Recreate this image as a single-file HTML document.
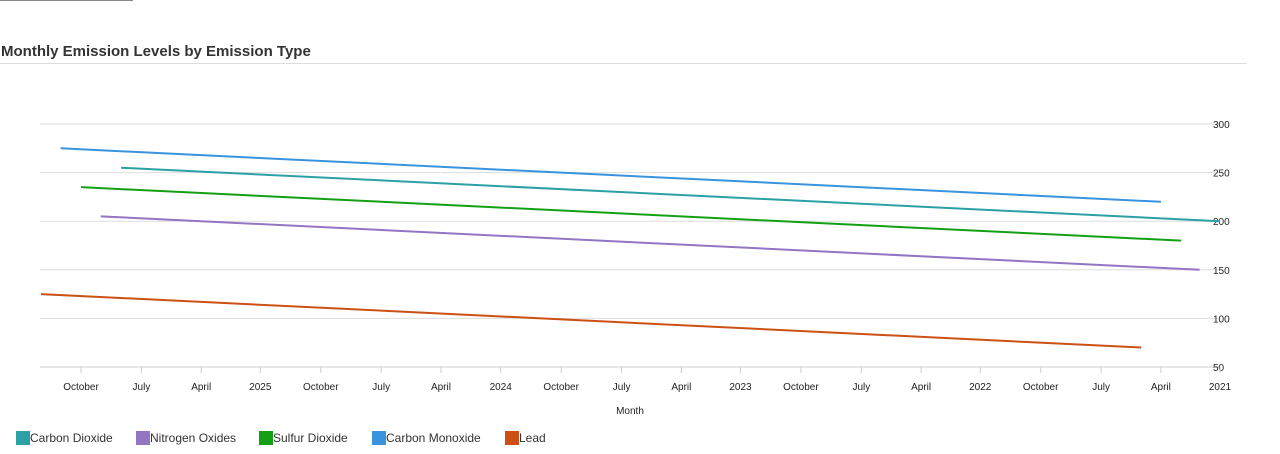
<!DOCTYPE html>
<html><head><meta charset="utf-8">
<style>
body{margin:0;width:1280px;height:454px;background:#fff;font-family:"Liberation Sans",sans-serif;overflow:hidden;position:relative}
.topbar{position:absolute;left:0;top:0;width:133px;height:1px;background:#888}
.title{position:absolute;left:1px;top:43px;font-size:15px;font-weight:bold;color:#333}
.rule{position:absolute;left:0;top:63px;width:1247px;height:1px;background:#ddd}
.legend{position:absolute;top:431px;left:0;font-size:12px;color:#333}
.li{position:absolute;white-space:nowrap;display:flex;align-items:center;height:14px}
.sw{width:14px;height:14px;display:inline-block}
</style></head><body>
<div class="topbar"></div>
<div class="title">Monthly Emission Levels by Emission Type</div>
<div class="rule"></div>
<svg id="chart" width="1280" height="454" style="position:absolute;left:0;top:0"></svg>
<div class="legend">
<div class="li" style="left:16px"><span class="sw" style="background:#2ca0a5"></span>Carbon Dioxide</div>
<div class="li" style="left:136px"><span class="sw" style="background:#9475c4"></span>Nitrogen Oxides</div>
<div class="li" style="left:259px"><span class="sw" style="background:#14a014"></span>Sulfur Dioxide</div>
<div class="li" style="left:372px"><span class="sw" style="background:#3a94dd"></span>Carbon Monoxide</div>
<div class="li" style="left:505px"><span class="sw" style="background:#cc5014"></span>Lead</div>
</div>
<script>
const seriesNames=["Carbon Dioxide","Nitrogen Oxides","Sulfur Dioxide","Carbon Monoxide","Lead"];
const seriesColors=["#2ca0a5","#9475c4","#14a014","#3a94dd","#cc5014"];
const seriesDates=[["2025-08-01","2021-01-01"],["2025-09-01","2021-02-01"],["2025-10-01","2021-03-01"],["2025-11-01","2021-04-01"],["2025-12-01","2021-05-01"]];
const seriesValues=[[255,200],[205,150],[235,180],[275,220],[125,70]];
const yTicks=[50,100,150,200,250,300];
const xTickDates=["2025-10-01","2025-07-01","2025-04-01","2025-01-01","2024-10-01","2024-07-01","2024-04-01","2024-01-01","2023-10-01","2023-07-01","2023-04-01","2023-01-01","2022-10-01","2022-07-01","2022-04-01","2022-01-01","2021-10-01","2021-07-01","2021-04-01","2021-01-01"];
const xTickLabels=["October","July","April","2025","October","July","April","2024","October","July","April","2023","October","July","April","2022","October","July","April","2021"];

const svg=document.getElementById('chart');
const NS="http://www.w3.org/2000/svg";
const t0=Date.parse("2021-01-01"),t1=Date.parse("2025-10-01");
const xs=d=>1220-(t0-Date.parse(d))/(t0-t1)*(1220-81)*-1*-1- (0);
function X(d){return 1220+(Date.parse(d)-t0)/(t1-t0)*(81-1220);}
function Y(v){return 367-(v-50)*(367-124)/250;}
function mk(tag,attrs){const e=document.createElementNS(NS,tag);for(const k in attrs)e.setAttribute(k,attrs[k]);svg.appendChild(e);return e;}
yTicks.forEach(v=>{
  const l=mk('line',{x1:40,x2:1220,y1:Y(v),y2:Y(v),stroke:v===50?'#ccc':'#ddd','stroke-width':1});
  
  
  const t=mk('text',{x:1213,y:Y(v)+4,'font-size':10,fill:'#222'});
  t.textContent=v;
  
  
});
xTickDates.forEach((d,i)=>{
  const x=X(d);
  const tk=mk('line',{x1:x,x2:x,y1:367,y2:373,stroke:'#ccc'});
  
  
  const t=mk('text',{x:x,y:390,'font-size':10,fill:'#222','text-anchor':'middle'});
  t.textContent=xTickLabels[i];
  
  
});
const at=mk('text',{x:630,y:414,'font-size':10,fill:'#222','text-anchor':'middle'});
at.textContent="Month";


seriesNames.forEach((n,i)=>{
  const pts=seriesDates[i].map((d,j)=>X(d)+','+Y(seriesValues[i][j])).join(' ');
  const p=mk('polyline',{points:pts,fill:'none',stroke:seriesColors[i],'stroke-width':2});
  
  
});
</script>
</body></html>
